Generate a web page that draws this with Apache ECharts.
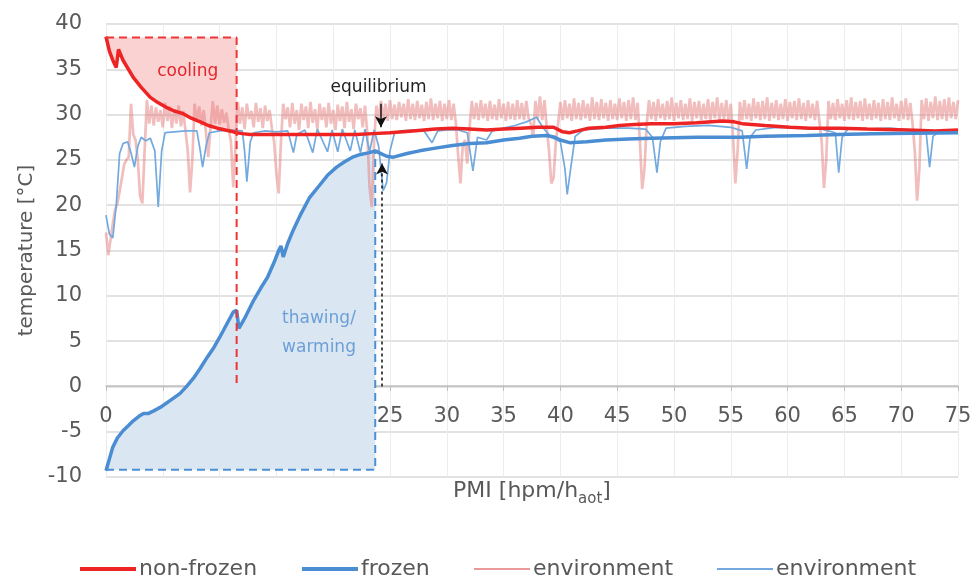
<!DOCTYPE html>
<html>
<head>
<meta charset="utf-8">
<script src="https://cdn.jsdelivr.net/npm/echarts@6/dist/echarts.min.js"></script>
<style>
html, body { margin: 0; padding: 0; background: #fff; }
#chart { width: 974px; height: 582px; }
</style>
</head>
<body>
<div id="chart"></div>
<script>
// PMI [hpm/h_aot] vs temperature [°C]
const xTicks = { min: 0, max: 75, interval: 5 };
const yTicks = { min: -10, max: 40, interval: 5 };

// thick curves, [PMI, temperature]
const nonFrozen = [
  [0, 38.6], [0.3, 37.0], [0.6, 36.0], [0.9, 35.2], [1.1, 37.2], [1.5, 36.0], [2.4, 34.1], [3.1, 33.0],
  [3.9, 31.9], [4.6, 31.3], [5.3, 30.8], [6, 30.4], [6.8, 30.1], [7.5, 29.6], [8.3, 29.2], [9, 28.8],
  [9.8, 28.5], [10.5, 28.3], [11.2, 28.1], [11.5, 28.0], [12, 27.9], [12.7, 27.8], [14, 27.8], [16, 27.8],
  [18, 27.8], [20, 27.8], [22, 27.8], [23.5, 27.9], [25, 28.0], [27, 28.2], [29, 28.4], [30.5, 28.5],
  [32, 28.4], [33.5, 28.3], [35, 28.4], [36.5, 28.5], [38, 28.6], [39.4, 28.6], [40.2, 28.1], [40.8, 28.0],
  [41.5, 28.2], [42.5, 28.5], [44, 28.6], [45.2, 28.8], [46.5, 28.9], [48, 29.0], [50, 29.0], [52, 29.1],
  [54.3, 29.3], [55.3, 29.2], [56, 29.0], [58, 28.8], [60.2, 28.6], [62, 28.5], [64.6, 28.5], [67, 28.4],
  [70.5, 28.3], [73, 28.2], [75, 28.3]
];

const frozen = [
  [0, -9.3], [0.3, -8.0], [0.6, -6.7], [1.0, -5.7], [1.5, -4.9], [2.0, -4.3], [2.4, -3.8], [2.9, -3.3],
  [3.3, -3.0], [3.7, -3.0], [4.2, -2.7], [4.8, -2.3], [5.6, -1.6], [6.5, -0.8], [7.1, 0.0], [7.7, 0.9],
  [8.3, 2.0], [8.9, 3.2], [9.5, 4.3], [10, 5.4], [10.6, 6.8], [11.2, 8.2], [11.5, 8.4], [11.7, 6.4],
  [12.2, 7.5], [13, 9.5], [13.6, 10.8], [14.2, 12], [14.8, 13.7], [15.2, 15.0], [15.4, 15.5], [15.6, 14.3],
  [16.0, 15.8], [16.5, 17.3], [17.1, 18.9], [17.9, 20.8], [18.8, 22.2], [19.5, 23.3], [20.3, 24.2], [21, 24.8],
  [21.7, 25.3], [22.4, 25.6], [23.2, 25.8], [23.7, 26.0], [24.2, 25.7], [24.7, 25.4], [25.3, 25.3], [26.5, 25.7],
  [27.6, 26.0], [29, 26.3], [30.5, 26.6], [32, 26.8], [33.5, 26.9], [35, 27.2], [36.4, 27.4], [37.5, 27.6],
  [38.8, 27.7], [39.5, 27.5], [40, 27.2], [40.8, 26.9], [42.3, 27.0], [44, 27.2], [46, 27.3], [48, 27.4],
  [52, 27.5], [55.8, 27.5], [58, 27.6], [61.7, 27.7], [64.5, 27.8], [67.5, 27.9], [71, 27.95], [75, 28.0]
];

// environment (non-frozen run), sampled every 0.2 PMI
const envRedStep = 0.2;
const envRed = [
  17, 14.5, 16.2, 18, 19.5, 20.2, 21.5, 23, 24.5, 25, 25.3,
  31.2, 27.8, 27.2, 25, 21, 20.2, 26, 31.6,
  29.0, 31.0, 28.8, 30.8, 29.2, 30.5, 28.6, 31.3, 29.3, 30.9, 28.5, 30.6, 29.0, 31.0, 28.7, 30.4, 28.2,
  26, 21.4, 25,
  31.2, 29.2, 30.9, 28.8, 30.5, 28.0,
  25.3, 28.5,
  31.5, 29.0, 31.0, 28.9, 30.6, 29.1, 30.2, 28.4,
  27.0, 22.0, 26.5,
  31.4, 29.0, 30.8, 28.4, 31.2, 29.5, 30.4, 28.6, 31.3, 29.2, 30.7, 28.5, 31.0, 29.3, 30.5, 28.5,
  27, 23.5, 21.3, 27,
  31.2, 29.5, 30.8, 28.6, 31.3, 29.0, 30.5, 28.3, 31.2, 29.4, 30.9, 28.5, 31.4, 29.1, 30.6, 28.4,
  31.2, 29.4, 30.8, 28.6, 31.3, 29.0, 30.5, 28.3, 31.1, 29.3, 30.9, 28.5, 31.4, 29.2, 30.6, 28.4,
  31.2, 29.5, 30.7, 28.6, 31.0,
  28.0, 22, 19.8, 27, 31.0,
  29.4, 31.5, 29.6, 31.2, 29.3, 31.6, 29.5, 31.1, 29.4, 31.4, 29.7, 31.2, 29.3, 31.7, 29.5, 31.2, 29.4, 31.5,
  29.6, 31.1, 29.3, 31.4, 29.5, 31.8, 29.4, 31.2, 29.6, 31.5, 29.3, 31.2, 29.5, 31.6, 29.4, 31.2, 29.0,
  25.5, 22.4, 26.5, 27.2, 24.6, 28.5, 31.5,
  29.5, 31.3, 29.4, 31.6, 29.6, 31.2, 29.3, 31.5, 29.5, 31.1, 29.4, 31.7, 29.6, 31.2, 29.3, 31.4, 29.5, 31.2,
  29.4, 31.6, 29.5, 31.3, 29.4, 31.5, 29.6,
  29.0, 27.5, 31.5, 29.5, 32.0, 29.4, 31.6, 28.5, 26, 22.4, 23, 27, 29, 31.4,
  29.4, 31.6, 29.6, 31.2, 29.3, 31.8, 29.5, 31.3, 29.4, 31.6, 29.6, 31.2, 29.3, 31.9, 29.5, 31.4, 29.4, 31.7,
  29.6, 31.3, 29.3, 31.6, 29.5, 31.2, 29.4, 31.8, 29.6, 31.4, 29.3, 31.6, 29.5, 31.9, 29.4, 31.3,
  27, 21.8, 24, 29, 31.6,
  29.5, 31.4, 29.3, 31.7, 29.6, 31.2, 29.4, 31.5, 29.5, 31.9, 29.3, 31.3, 29.6, 31.6, 29.4, 31.2, 29.5, 31.8,
  29.3, 31.4, 29.6, 31.5, 29.4, 31.2, 29.5, 31.7, 29.3, 31.4, 29.6, 31.9, 29.4, 31.3, 29.5, 31.6, 29.3, 31.2,
  27.5, 22.4, 26, 31.4,
  29.4, 31.6, 29.5, 31.2, 29.3, 31.8, 29.6, 31.4, 29.4, 31.5, 29.5, 31.9, 29.3, 31.3, 29.6, 31.6, 29.4, 31.2,
  29.5, 31.7, 29.3, 31.4, 29.6, 31.5, 29.4, 31.8, 29.5, 31.3, 29.3, 31.6, 29.6, 31.2, 29.4, 31.5, 29.2,
  27, 21.9, 25, 31.5,
  29.5, 31.3, 29.4, 31.7, 29.6, 31.2, 29.3, 31.6, 29.5, 31.9, 29.4, 31.4, 29.6, 31.5, 29.3, 31.8, 29.5, 31.2,
  29.4, 31.6, 29.6, 31.3, 29.3, 31.7, 29.5, 31.4, 29.4, 31.9, 29.6, 31.2, 29.3, 31.5, 29.5, 31.8, 29.4, 31.3, 29.0,
  26, 20.5, 24, 31.6,
  29.5, 31.8, 29.3, 31.4, 29.6, 32.0, 29.4, 31.5, 29.5, 31.7, 29.3, 31.9, 29.6, 31.4, 29.5, 31.6
];

// environment (frozen run), [PMI, temperature]
const envBlue = [
  [0, 18.9], [0.3, 16.8], [0.6, 16.4], [0.9, 20], [1.2, 25.7], [1.5, 26.8], [1.9, 27], [2.2, 25.8],
  [2.5, 24.2], [2.8, 26.5], [3.1, 27.5], [3.5, 27.1], [3.9, 27.4], [4.3, 26], [4.6, 19.8], [4.9, 26],
  [5.2, 28], [6, 28.1], [7, 28.2], [8, 28.2], [8.3, 26], [8.5, 24.2], [8.8, 26.5], [9.1, 28],
  [10, 28.2], [11, 28.3], [12, 28.2], [12.2, 26], [12.4, 22.6], [12.7, 27], [13, 28], [14, 28.2],
  [15, 28.1], [16, 28.2], [16.5, 25.8], [16.8, 27.8], [17.5, 28.3], [18.2, 25.8], [18.6, 28.4], [19.5, 25.9],
  [19.9, 28.3], [20.4, 25.9], [20.8, 28.4], [21.5, 26], [21.9, 28.3], [22.4, 25.8], [22.8, 28.4], [23.2, 25.9],
  [23.6, 28.3], [24.0, 26.5], [24.4, 21.6], [24.7, 22.5], [25.0, 26], [25.4, 28.0], [26, 28.2], [27, 28.3],
  [28, 28.2], [28.7, 26.9], [29.2, 28.2], [30, 28.3], [31, 28.3], [31.8, 28], [32.3, 23.8], [32.7, 27.5],
  [33.5, 27.2], [34, 28.2], [35, 28.5], [36, 28.8], [37, 29.2], [37.9, 29.7], [38.5, 28.5], [39.2, 27.5],
  [40.0, 27.0], [40.4, 24], [40.6, 21.2], [40.9, 24], [41.3, 27.6], [42, 28.3], [44, 28.5], [46, 28.5],
  [47.5, 28.4], [48.1, 27.5], [48.5, 23.6], [48.8, 27], [49.3, 28.5], [51, 28.7], [53, 28.8], [55, 28.6],
  [56.0, 28.2], [56.4, 24], [56.7, 27.5], [57.2, 28.3], [59, 28.6], [61, 28.5], [63, 28.4], [64.2, 28],
  [64.5, 23.6], [64.8, 27.5], [65.3, 28.4], [67, 28.4], [69, 28.5], [71, 28.3], [72.2, 28], [72.5, 24.2],
  [72.8, 27.6], [73.3, 28.1], [75, 28.2]
];

// annotation geometry in data units
const coolEnd = 11.5, coolTop = 38.5;
const thawEnd = 23.7, thawBottom = -9.2;
const coolBox = [[0, coolTop], [coolEnd, coolTop], [coolEnd, 0]];
const thawBox = [[0, thawBottom], [thawEnd, thawBottom], [thawEnd, 26.0]];
const eqUp = [[24.3, 0], [24.3, 24.6]];
const eqDown = [[24.2, 31.2], [24.2, 28.6]];
const notes = [
  { text: 'cooling', at: [7.2, 34.7], color: '#e3262b' },
  { text: 'equilibrium', at: [24.0, 33.0], color: '#222222' }
];
const thawNote = { text: 'thawing/\nwarming', at: [15.5, 5.9], color: '#6b9fd6' };

const font = 'DejaVu Sans, sans-serif';
const grey = '#595959';

const chart = echarts.init(document.getElementById('chart'), null, { renderer: 'canvas' });

function legendAt(name, left, height) {
  return {
    data: [name], left: left, top: 553, icon: 'rect', itemWidth: 56, itemHeight: height,
    itemGap: 0, selectedMode: false,
    textStyle: { fontSize: 22, color: grey, fontFamily: font, padding: [0, 0, 0, -2] }
  };
}

chart.setOption({
  animation: false,
  backgroundColor: '#fff',
  textStyle: { fontFamily: font },
  grid: { left: 106, right: 16, top: 24, bottom: 105, outerBoundsMode: 'none', containLabel: false },
  legend: [
    legendAt('non-frozen', 75, 4),
    legendAt('frozen', 297, 4),
    legendAt('environment', 469, 2),
    legendAt('environment ', 712, 2)
  ],
  xAxis: {
    type: 'value', min: xTicks.min, max: xTicks.max, interval: xTicks.interval,
    offset: -91,
    name: '{a|PMI [hpm/h}{s|aot}{a|]}', nameLocation: 'middle', nameGap: 94,
    nameTextStyle: {
      rich: {
        a: { fontSize: 22, color: grey, fontFamily: font },
        s: { fontSize: 15, color: grey, fontFamily: font, verticalAlign: 'bottom', padding: [0, 0, -5, 0] }
      }
    },
    axisLine: { onZero: false, lineStyle: { color: '#bfbfbf', width: 1.5 } },
    axisTick: { show: true, length: 5, lineStyle: { color: '#bfbfbf' } },
    axisLabel: { fontSize: 21, color: grey, margin: 20, fontFamily: font },
    splitLine: { show: true, lineStyle: { color: '#ececec', width: 1 } }
  },
  yAxis: {
    type: 'value', min: yTicks.min, max: yTicks.max, interval: yTicks.interval,
    name: 'temperature [°C]', nameLocation: 'middle', nameGap: 68,
    nameTextStyle: { fontSize: 20, color: grey, fontFamily: font },
    axisLine: { show: false }, axisTick: { show: false },
    axisLabel: { fontSize: 21, color: grey, margin: 24, fontFamily: font },
    splitLine: { lineStyle: { color: '#d9d9d9', width: 1.5 } }
  },
  series: [
    {
      name: 'coolFill', type: 'line', silent: true, z: 1, symbol: 'none',
      data: nonFrozen.filter(p => p[0] <= coolEnd),
      lineStyle: { width: 0 },
      areaStyle: { origin: coolTop, color: '#fad2d2', opacity: 1 }
    },
    {
      name: 'thawFill', type: 'line', silent: true, z: 1, symbol: 'none',
      data: frozen.filter(p => p[0] <= thawEnd),
      lineStyle: { width: 0 },
      areaStyle: { origin: thawBottom, color: '#dbe6f3', opacity: 1 }
    },
    {
      name: 'environment', type: 'line', z: 2, symbol: 'none', color: '#e99a9a',
      data: envRed.map((v, i) => [+(i * envRedStep).toFixed(1), v]),
      lineStyle: { width: 2.7, color: 'rgba(228,124,124,0.5)' }
    },
    {
      name: 'environment ', type: 'line', z: 3, symbol: 'none', color: '#72a9de',
      data: envBlue,
      lineStyle: { width: 1.7, color: '#72a9de' }
    },
    {
      name: 'non-frozen', type: 'line', z: 4, symbol: 'none', color: '#ee2424',
      data: nonFrozen,
      lineStyle: { width: 3.5 }
    },
    {
      name: 'frozen', type: 'line', z: 5, symbol: 'none', color: '#4a8dd2',
      data: frozen,
      lineStyle: { width: 3.5 }
    },
    {
      name: 'coolBox', type: 'line', z: 6, symbol: 'none', silent: true,
      data: coolBox,
      lineStyle: { width: 2, type: [8, 5], color: '#ee3535' },
      markPoint: {
        silent: true, symbol: 'circle', symbolSize: 0,
        data: notes.map(n => ({
          coord: n.at,
          label: { show: true, position: 'inside', formatter: n.text, color: n.color, fontSize: 17, fontFamily: font }
        })).concat([{
          coord: thawNote.at,
          label: {
            show: true, position: 'right', distance: 0, align: 'left', formatter: thawNote.text,
            color: thawNote.color, fontSize: 17, lineHeight: 29, fontFamily: font
          }
        }])
      }
    },
    {
      name: 'thawBox', type: 'line', z: 6, symbol: 'none', silent: true,
      data: thawBox,
      lineStyle: { width: 2, type: [8, 5], color: '#4a90d6' },
      markLine: {
        silent: true, symbol: ['none', 'arrow'], symbolSize: [9, 11],
        label: { show: false },
        lineStyle: { color: '#111', width: 1.5, type: 'solid' },
        data: [
          [{ coord: eqUp[0], lineStyle: { type: [3, 3], color: '#111', width: 1.5 } }, { coord: eqUp[1] }],
          [{ coord: eqDown[0] }, { coord: eqDown[1] }]
        ]
      }
    }
  ]
});
</script>
</body>
</html>
